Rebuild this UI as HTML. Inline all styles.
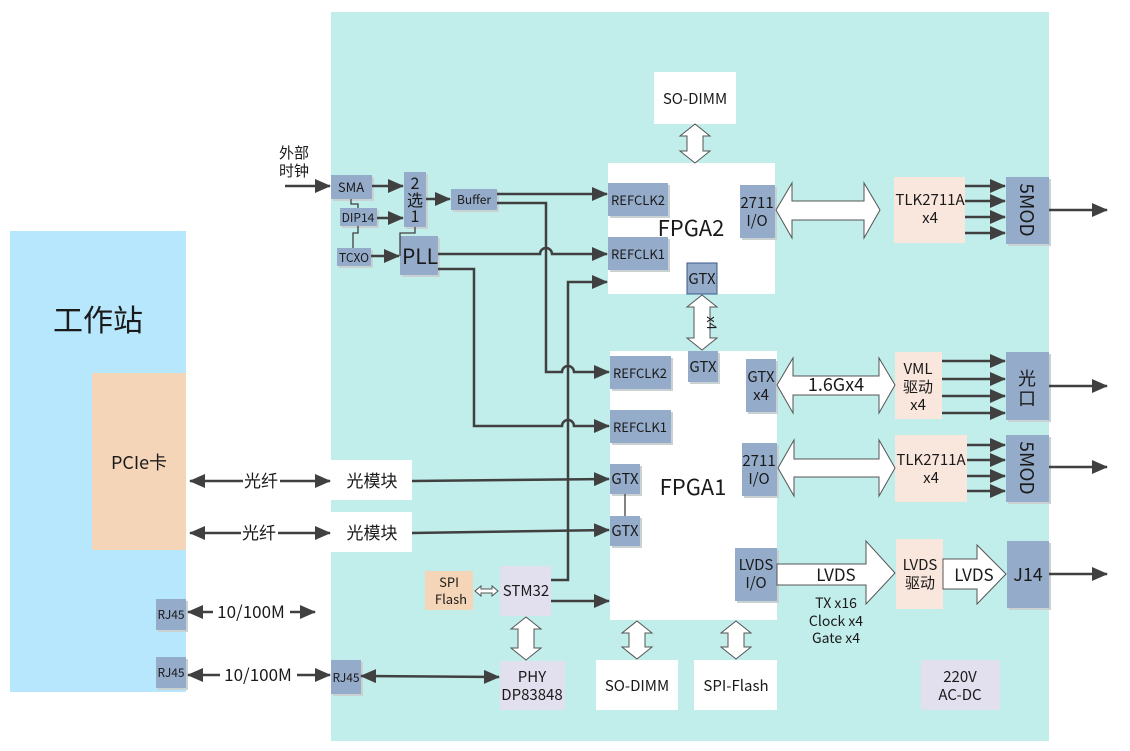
<!DOCTYPE html>
<html><head><meta charset="utf-8"><style>
html,body{margin:0;padding:0;background:#fff;}
svg{display:block;}
text{font-family:"Noto Sans CJK SC","Liberation Sans",sans-serif;fill:#1a1a1a;}
</style></head><body>
<svg width="1130" height="751" viewBox="0 0 1130 751" xmlns="http://www.w3.org/2000/svg">
<defs>
<marker id="A" viewBox="0 0 16 14" markerWidth="16" markerHeight="14" refX="15" refY="7" orient="auto" markerUnits="userSpaceOnUse"><path d="M0,0 L16,7 L0,14 z" fill="#404040"/></marker>
<marker id="As" viewBox="0 0 16 14" markerWidth="16" markerHeight="14" refX="1" refY="7" orient="auto" markerUnits="userSpaceOnUse"><path d="M16,0 L0,7 L16,14 z" fill="#404040"/></marker>
</defs>
<rect x="331" y="12" width="718" height="729" fill="#c1edea"/>
<rect x="10" y="231" width="176" height="461" fill="#b7e7fc"/>
<text x="98" y="331" font-size="30" text-anchor="middle">工作站</text>
<rect x="92" y="373" width="94" height="177" fill="#f5d5b8"/>
<text x="139" y="469" font-size="18" text-anchor="middle">PCIe卡</text>
<g fill="#c9d1d3"><rect x="158" y="601" width="30" height="31"/><rect x="158" y="659" width="30" height="31"/></g>
<g fill="#94acca"><rect x="156" y="599" width="30" height="31"/><rect x="156" y="657" width="30" height="31"/></g>
<text x="171" y="619" font-size="12" text-anchor="middle">RJ45</text>
<text x="171" y="677" font-size="12" text-anchor="middle">RJ45</text>

<g fill="#fff">
<rect x="654" y="72" width="82" height="52"/>
<rect x="608" y="163" width="167" height="131"/>
<rect x="610" y="351" width="167" height="269"/>
<rect x="331" y="460" width="81" height="40"/>
<rect x="331" y="512" width="81" height="40"/>
<rect x="596" y="660" width="82" height="50"/>
<rect x="694" y="660" width="83" height="50"/>
</g>
<text x="695" y="104" font-size="15" text-anchor="middle">SO-DIMM</text>
<text x="637" y="691" font-size="15" text-anchor="middle">SO-DIMM</text>
<text x="736" y="691" font-size="15" text-anchor="middle">SPI-Flash</text>
<text x="691" y="236" font-size="22" text-anchor="middle">FPGA2</text>
<text x="693" y="495" font-size="22" text-anchor="middle">FPGA1</text>
<text x="372" y="487" font-size="17" text-anchor="middle">光模块</text>
<text x="372" y="539" font-size="17" text-anchor="middle">光模块</text>

<g fill="#c9d1d3">
<rect x="333" y="177" width="41" height="24"/><rect x="342" y="210" width="37" height="18"/><rect x="339" y="250" width="34" height="18"/>
<rect x="406" y="174" width="22" height="55"/><rect x="402" y="238" width="38" height="39"/><rect x="453" y="191" width="46" height="21"/>
<rect x="610" y="185" width="60" height="33"/><rect x="610" y="239" width="60" height="33"/><rect x="742" y="187" width="35" height="53"/>
<rect x="690" y="353" width="30" height="31"/><rect x="612" y="358" width="61" height="33"/><rect x="612" y="412" width="61" height="33"/>
<rect x="612" y="466" width="30" height="30"/><rect x="612" y="518" width="30" height="30"/><rect x="748" y="361" width="30" height="53"/>
<rect x="744" y="445" width="35" height="53"/><rect x="737" y="550" width="42" height="53"/>
<rect x="1008" y="179" width="43" height="67"/><rect x="1008" y="354" width="43" height="68"/><rect x="1008" y="437" width="43" height="67"/><rect x="1009" y="543" width="42" height="67"/>
<rect x="333" y="662" width="30" height="34"/>
</g>
<g fill="#94acca">
<rect x="331" y="175" width="41" height="24"/><rect x="340" y="208" width="37" height="18"/><rect x="337" y="248" width="34" height="18"/>
<rect x="404" y="172" width="22" height="55"/><rect x="400" y="236" width="38" height="39"/><rect x="451" y="189" width="46" height="21"/>
<rect x="608" y="183" width="60" height="33"/><rect x="608" y="237" width="60" height="33"/><rect x="740" y="185" width="35" height="53"/>
<rect x="687" y="263" width="30" height="31" stroke="#3a5a8a" stroke-width="1"/>
<rect x="688" y="351" width="30" height="31"/><rect x="610" y="356" width="61" height="33"/><rect x="610" y="410" width="61" height="33"/>
<rect x="610" y="464" width="30" height="30"/><rect x="610" y="516" width="30" height="30"/><rect x="746" y="359" width="30" height="53"/>
<rect x="742" y="443" width="35" height="53"/><rect x="735" y="548" width="42" height="53"/>
<rect x="1006" y="177" width="43" height="67"/><rect x="1006" y="352" width="43" height="68"/><rect x="1006" y="435" width="43" height="67"/><rect x="1007" y="541" width="42" height="67"/>
<rect x="331" y="660" width="30" height="34"/>
</g>
<g fill="#f9e6dc">
<rect x="894" y="177" width="71" height="66"/><rect x="895" y="352" width="47" height="67"/><rect x="895" y="435" width="72" height="67"/><rect x="896" y="539" width="47" height="70"/>
</g>
<rect x="425" y="571" width="48" height="39" fill="#f5d5b8"/>
<g fill="#e2dfee"><rect x="500" y="566" width="51" height="50"/><rect x="500" y="661" width="65" height="49"/><rect x="921" y="660" width="79" height="50"/></g>

<g font-size="13" text-anchor="middle">
<text x="351" y="192">SMA</text><text x="358" y="222" font-size="12">DIP14</text><text x="354" y="262" font-size="12">TCXO</text>
<text x="474" y="204" font-size="12">Buffer</text>
<text x="638" y="205">REFCLK2</text><text x="638" y="259">REFCLK1</text>
<text x="640" y="378">REFCLK2</text><text x="640" y="432">REFCLK1</text>
<text x="346" y="682" font-size="12">RJ45</text>
</g>
<g font-size="15" text-anchor="middle">
<text x="415" y="189" font-size="16">2</text><text x="415" y="206" font-size="16">选</text><text x="415" y="222" font-size="16">1</text>
<text x="702" y="284">GTX</text><text x="703" y="372">GTX</text>
<text x="625" y="484">GTX</text><text x="625" y="536">GTX</text>
<text x="757" y="208">2711</text><text x="757" y="226">I/O</text>
<text x="761" y="382">GTX</text><text x="761" y="400">x4</text>
<text x="759" y="466">2711</text><text x="759" y="484">I/O</text>
<text x="756" y="570">LVDS</text><text x="756" y="588">I/O</text>
<text x="930" y="205">TLK2711A</text><text x="930" y="223">x4</text>
<text x="931" y="465">TLK2711A</text><text x="931" y="483">x4</text>
<text x="918" y="374">VML</text><text x="918" y="392">驱动</text><text x="918" y="410">x4</text>
<text x="920" y="570">LVDS</text><text x="920" y="588">驱动</text>
<text x="449" y="587" font-size="13">SPI</text><text x="451" y="604" font-size="13">Flash</text>
<text x="526" y="596">STM32</text>
<text x="532" y="682">PHY</text><text x="532" y="700">DP83848</text>
<text x="960" y="682">220V</text><text x="960" y="700">AC-DC</text>
<text x="836" y="608" font-size="14">TX x16</text><text x="836" y="626" font-size="14">Clock x4</text><text x="836" y="643" font-size="14">Gate x4</text>
<text x="420" y="264" font-size="21">PLL</text>
<text x="1028" y="581" font-size="18">J14</text>
</g>
<text transform="translate(1020,210) rotate(90)" font-size="19" text-anchor="middle">5MOD</text>
<text transform="translate(1020,468) rotate(90)" font-size="19" text-anchor="middle">5MOD</text>
<text x="1027" y="385" font-size="18" text-anchor="middle">光</text>
<text x="1027" y="405" font-size="18" text-anchor="middle">口</text>
<text x="294" y="158" font-size="15" text-anchor="middle">外部</text>
<text x="294" y="176" font-size="15" text-anchor="middle">时钟</text>

<g fill="#fff" stroke="#555" stroke-width="1">
<polygon points="695,124 710,136 703,136 703,151 710,151 695,163 680,151 687,151 687,136 680,136"/>
<polygon points="702,295 717,307 710,307 710,338 717,338 702,350 687,338 694,338 694,307 687,307"/>
<polygon points="637,621 652,633 645,633 645,647 652,647 637,659 622,647 629,647 629,633 622,633"/>
<polygon points="736,621 751,633 744,633 744,647 751,647 736,659 721,647 728,647 728,633 721,633"/>
<polygon points="526,617 541,629 534,629 534,648 541,648 526,660 511,648 518,648 518,629 511,629"/>
<polygon points="776,210 792,183 792,201 864,201 864,183 880,210 864,238 864,220 792,220 792,238"/>
<polygon points="777,385 793,358 793,376 879,376 879,358 895,385 879,413 879,395 793,395 793,413"/>
<polygon points="778,468 794,440 794,459 879,459 879,440 895,468 879,496 879,477 794,477 794,496"/>
<polygon points="777,564 866,564 866,541 895,573 866,604 866,585 777,585"/>
<polygon points="943,559 977,559 977,545 1006,574 977,604 977,589 943,589"/>
<polygon points="475,591 481,586 481,589 492,589 492,586 498,591 492,596 492,593 481,593 481,596"/>
</g>
<text transform="translate(707,323) rotate(90)" font-size="13" text-anchor="middle">x4</text>
<text x="836" y="391" font-size="18" text-anchor="middle">1.6Gx4</text>
<text x="836" y="581" font-size="17" text-anchor="middle">LVDS</text>
<text x="974" y="581" font-size="17" text-anchor="middle">LVDS</text>

<g stroke="#404040" stroke-width="2.5" fill="none">
<line x1="285" y1="186" x2="330" y2="186" marker-end="url(#A)"/>
<line x1="372" y1="186" x2="403" y2="186" marker-end="url(#A)"/>
<line x1="377" y1="218" x2="403" y2="218" marker-end="url(#A)"/>
<line x1="371" y1="256" x2="399" y2="256" marker-end="url(#A)"/>
<line x1="426" y1="199" x2="450" y2="199" marker-end="url(#A)"/>
<line x1="497" y1="194" x2="607" y2="194" marker-end="url(#A)"/>
<path d="M497,203 H546 V372 H562 a6,6 0 0 1 12,0 H609" marker-end="url(#A)"/>
<path d="M438,254 H540 a6,6 0 0 1 12,0 H607" marker-end="url(#A)"/>
<path d="M438,269 H474 V426 H562 a6,6 0 0 1 12,0 H609" marker-end="url(#A)"/>
<path d="M551,580 H568 V282 H607" marker-end="url(#A)"/>
<line x1="551" y1="601" x2="609" y2="601" marker-end="url(#A)"/>
<line x1="412" y1="481" x2="609" y2="479" marker-end="url(#A)"/>
<line x1="412" y1="533" x2="609" y2="530" marker-end="url(#A)"/>
<line x1="361" y1="676" x2="499" y2="677" marker-start="url(#As)" marker-end="url(#A)"/>
<line x1="190" y1="481" x2="243" y2="481" marker-start="url(#As)"/><line x1="280" y1="481" x2="330" y2="481" marker-end="url(#A)"/>
<line x1="190" y1="533" x2="241" y2="533" marker-start="url(#As)"/><line x1="278" y1="533" x2="330" y2="533" marker-end="url(#A)"/>
<line x1="188" y1="612" x2="213" y2="612" marker-start="url(#As)"/><line x1="290" y1="612" x2="315" y2="612" marker-end="url(#A)"/>
<line x1="188" y1="675" x2="220" y2="675" marker-start="url(#As)"/><line x1="297" y1="675" x2="330" y2="675" marker-end="url(#A)"/>
<line x1="965" y1="186" x2="1005" y2="186" marker-end="url(#A)"/>
<line x1="965" y1="201" x2="1005" y2="201" marker-end="url(#A)"/>
<line x1="965" y1="217" x2="1005" y2="217" marker-end="url(#A)"/>
<line x1="965" y1="233" x2="1005" y2="233" marker-end="url(#A)"/>
<line x1="942" y1="361" x2="1005" y2="361" marker-end="url(#A)"/>
<line x1="942" y1="379" x2="1005" y2="379" marker-end="url(#A)"/>
<line x1="942" y1="396" x2="1005" y2="396" marker-end="url(#A)"/>
<line x1="942" y1="413" x2="1005" y2="413" marker-end="url(#A)"/>
<line x1="967" y1="445" x2="1005" y2="445" marker-end="url(#A)"/>
<line x1="967" y1="460" x2="1005" y2="460" marker-end="url(#A)"/>
<line x1="967" y1="476" x2="1005" y2="476" marker-end="url(#A)"/>
<line x1="967" y1="491" x2="1005" y2="491" marker-end="url(#A)"/>
<line x1="1049" y1="210" x2="1107" y2="210" marker-end="url(#A)"/>
<line x1="1049" y1="386" x2="1107" y2="386" marker-end="url(#A)"/>
<line x1="1049" y1="467" x2="1107" y2="467" marker-end="url(#A)"/>
<line x1="1049" y1="574" x2="1107" y2="574" marker-end="url(#A)"/>
</g>
<g stroke="#404040" stroke-width="1.3" fill="none">
<path d="M351,199 V204 H358 V208"/><path d="M358,226 V233 H353 V248"/>
<path d="M415,227 V233 H400 V256"/><line x1="625" y1="494" x2="625" y2="516"/>
</g>
<g font-size="17" text-anchor="middle">
<text x="261" y="487">光纤</text><text x="259" y="539">光纤</text>
<text x="251" y="618">10/100M</text><text x="258" y="681">10/100M</text>
</g>
</svg>
</body></html>
